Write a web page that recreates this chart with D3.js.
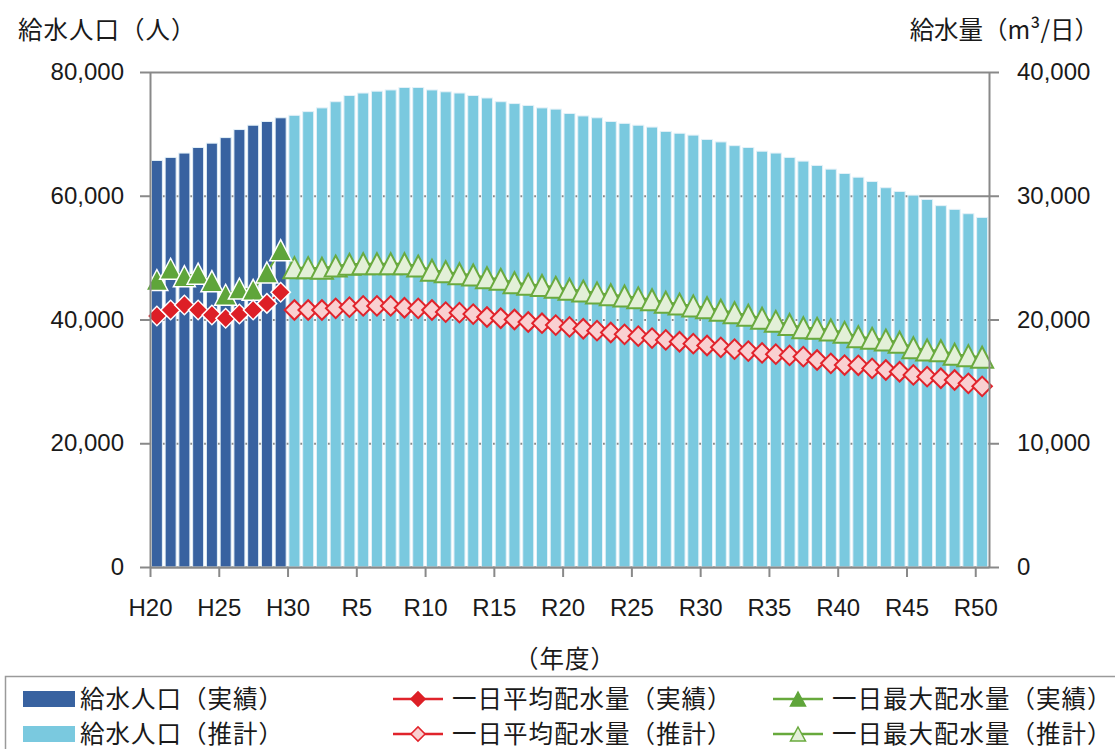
<!DOCTYPE html>
<html>
<head>
<meta charset="utf-8">
<script src="https://cdn.jsdelivr.net/npm/d3@7"></script>
<style>
  body { margin: 0; background: #fff; }
  text { font-family: "Liberation Sans", Arial, sans-serif; fill: #1a1a1a; }
  .jp { font-family: "Noto Sans CJK JP", sans-serif; letter-spacing: 1px; }
</style>
</head>
<body>
<div id="chart"></div>
<script>
// fiscal years H20 (2008) .. R50 (2068)
const years = ["H20","H21","H22","H23","H24","H25","H26","H27","H28","H29","H30",
  "R1","R2","R3","R4","R5","R6","R7","R8","R9","R10","R11","R12","R13","R14","R15",
  "R16","R17","R18","R19","R20","R21","R22","R23","R24","R25","R26","R27","R28","R29","R30",
  "R31","R32","R33","R34","R35","R36","R37","R38","R39","R40","R41","R42","R43","R44","R45",
  "R46","R47","R48","R49","R50"];
const tickYears = ["H20","H25","H30","R5","R10","R15","R20","R25","R30","R35","R40","R45","R50"];
const actualYears = years.slice(0, 10);    // H20-H29
const estimateYears = years.slice(10);     // H30-R50

// 給水人口 (人)
const popActual = [65700, 66200, 66900, 67800, 68500, 69400, 70700, 71400, 72000, 72600];
const popEstimate = [73000, 73600, 74200, 75200, 76200, 76600, 76900, 77100, 77500, 77500,
  77100, 76800, 76600, 76200, 75800, 75200, 74900, 74600, 74200, 74000,
  73300, 72900, 72600, 72000, 71700, 71400, 71100, 70400, 70100, 69800,
  69100, 68700, 68100, 67800, 67200, 66900, 66200, 65600, 64900, 64300,
  63600, 63000, 62300, 61300, 60700, 60100, 59400, 58400, 57800, 57100, 56500];

// 一日平均配水量 (m3/日)
const avgActual = [20280, 20770, 21170, 20770, 20360, 20100, 20440, 20770, 21300, 22200];
const avgEstimate = [20770, 20770, 20770, 20900, 21000, 21100, 21100, 21100, 20950, 20900,
  20770, 20600, 20550, 20440, 20200, 20100, 20000, 19800, 19700, 19550,
  19400, 19250, 19100, 18950, 18800, 18650, 18500, 18350, 18200, 18050,
  17900, 17750, 17600, 17450, 17300, 17200, 17100, 17000, 16730, 16460,
  16320, 16300, 16050, 15920, 15780, 15520, 15380, 15250, 15110, 14840, 14600];

// 一日最大配水量 (m3/日)
const maxActual = [23190, 24100, 23500, 23700, 23100, 22000, 22500, 22400, 23800, 25600];
const maxEstimate = [24190, 24190, 24140, 24320, 24460, 24510, 24510, 24510, 24510, 24320,
  23980, 23860, 23700, 23600, 23380, 23250, 22970, 22840, 22750, 22600,
  22450, 22300, 22150, 22000, 21900, 21750, 21600, 21400, 21250, 21100,
  20950, 20750, 20550, 20350, 20100, 19850, 19600, 19340, 19290, 19150,
  18960, 18610, 18480, 18340, 18160, 17720, 17540, 17480, 17190, 17080, 16950];

const leftTicks = [0, 20000, 40000, 60000, 80000];
const rightTicks = [0, 10000, 20000, 30000, 40000];

const W = 1115, H = 749;
const plot = {left: 150, right: 989, top: 72, bottom: 567};
const axisColor = "#898989";

const svg = d3.select("#chart").append("svg")
    .attr("width", W).attr("height", H);

// scales
var x = d3.scaleBand().domain(years)
    .range([plot.left, plot.right])
    .paddingInner(0.2).paddingOuter(0.1);
var xEdge = d3.scaleLinear().domain([0, years.length])
    .range([plot.left, plot.right]);
var yL = d3.scaleLinear().domain([0, 80000]).range([plot.bottom, plot.top]);
var yR = d3.scaleLinear().domain([0, 40000]).range([plot.bottom, plot.top]);

// gridlines
svg.append("g")
   .attr("class", "grid")
   .attr("transform", "translate(" + plot.left + ",0)")
   .call(d3.axisLeft(yL).tickValues(leftTicks).tickSize(-(plot.right - plot.left)).tickFormat(""))
   .call(g => g.select(".domain").remove())
   .call(g => g.selectAll("line").attr("stroke", axisColor).attr("stroke-width", 2));

// bars
function drawBars(cats, vals, color) {
  svg.append("g").selectAll("rect")
     .data(vals).enter().append("rect")
     .attr("x", (d, i) => x(cats[i]))
     .attr("width", x.bandwidth())
     .attr("y", d => yL(d))
     .attr("height", d => yL(0) - yL(d))
     .attr("fill", color)
     .attr("stroke", "#e4f1f8")
     .attr("stroke-width", 1);
}
drawBars(actualYears, popActual, "#3862a0");
drawBars(estimateYears, popEstimate, "#7ac9df");

// markers
var cx = c => x(c) + x.bandwidth() / 2;
var diamond = d3.symbol().type(d3.symbolSquare).size(190);
function triPath(w, h) {
  return "M0," + (-h / 2) + "L" + (w / 2) + "," + (h / 2) + "L" + (-w / 2) + "," + (h / 2) + "Z";
}

function drawSeries(cats, vals, kind, fill, stroke, sw) {
  var line = d3.line().x((d, i) => cx(cats[i])).y(d => yR(d));
  svg.append("path")
     .datum(vals)
     .attr("d", line)
     .attr("fill", "none")
     .attr("stroke", kind === "diamond" ? "#e0232b" : "#67a93c")
     .attr("stroke-width", 2);
  var g = svg.append("g");
  g.selectAll("path")
   .data(vals).enter().append("path")
   .attr("transform", (d, i) => "translate(" + cx(cats[i]) + "," + yR(d) + ")" + (kind === "diamond" ? " rotate(45)" : ""))
   .attr("d", kind === "diamond" ? diamond() : triPath(22, 21))
   .attr("fill", fill)
   .attr("stroke", stroke)
   .attr("stroke-width", sw)
   .attr("stroke-linejoin", "miter");
}
drawSeries(estimateYears, maxEstimate, "tri", "#e3f0d8", "#6aaa3e", 2);
drawSeries(estimateYears, avgEstimate, "diamond", "#f9d0d1", "#e2232b", 2);
drawSeries(actualYears, maxActual, "tri", "#5fa53a", "#ffffff", 1.5);
drawSeries(actualYears, avgActual, "diamond", "#dd1f26", "#ffffff", 1.5);

// axes
function styleAxis(g) {
  g.selectAll(".domain").attr("stroke", axisColor).attr("stroke-width", 2);
  g.selectAll(".tick line").attr("stroke", axisColor).attr("stroke-width", 2);
  g.selectAll(".tick text").attr("font-size", 24).attr("fill", "#1a1a1a")
   .attr("font-family", "'Liberation Sans', Arial, sans-serif");
}

svg.append("g")
   .attr("transform", "translate(" + plot.left + ",0)")
   .call(d3.axisLeft(yL).tickValues(leftTicks).tickSize(10).tickSizeOuter(0)
           .tickPadding(16).tickFormat(d3.format(",")))
   .call(styleAxis);

svg.append("g")
   .attr("transform", "translate(" + plot.right + ",0)")
   .call(d3.axisRight(yR).tickValues(rightTicks).tickSize(10).tickSizeOuter(0)
           .tickPadding(18).tickFormat(d3.format(",")))
   .call(styleAxis);

svg.append("g")
   .attr("transform", "translate(0," + plot.bottom + ")")
   .call(d3.axisBottom(xEdge)
           .tickValues(tickYears.map(t => years.indexOf(t)))
           .tickSize(10).tickSizeOuter(0).tickPadding(22)
           .tickFormat(i => years[i]))
   .call(styleAxis);

// axis titles
svg.append("text").attr("class", "jp")
   .attr("x", 18).attr("y", 30).attr("dy", "0.35em")
   .attr("font-size", 24.5)
   .text("給水人口（人）");
svg.append("text").attr("class", "jp")
   .attr("x", 1099).attr("y", 30).attr("dy", "0.35em")
   .attr("text-anchor", "end")
   .attr("font-size", 24.5)
   .style("letter-spacing", "0px")
   .text("給水量（m³/日）");
svg.append("text").attr("class", "jp")
   .attr("x", 565).attr("y", 659).attr("dy", "0.35em")
   .attr("text-anchor", "middle")
   .attr("font-size", 24.5)
   .text("（年度）");

// legend
var legend = svg.append("g");
legend.append("rect")
   .attr("x", 5.5).attr("y", 676.5).attr("width", 1120).attr("height", 80)
   .attr("fill", "#fff").attr("stroke", "#9a9a9a").attr("stroke-width", 1.5);

const legendItems = [
  {label: "給水人口（実績）", type: "bar", fill: "#3862a0", col: 0, row: 0},
  {label: "給水人口（推計）", type: "bar", fill: "#7ac9df", col: 0, row: 1},
  {label: "一日平均配水量（実績）", type: "diamond", fill: "#dd1f26", stroke: "#dd1f26", col: 1, row: 0},
  {label: "一日平均配水量（推計）", type: "diamond", fill: "#f9d0d1", stroke: "#e2232b", col: 1, row: 1},
  {label: "一日最大配水量（実績）", type: "tri", fill: "#5fa53a", stroke: "#5fa53a", col: 2, row: 0},
  {label: "一日最大配水量（推計）", type: "tri", fill: "#e3f0d8", stroke: "#6aaa3e", col: 2, row: 1}
];
const colX = [23, 393, 773];
const rowY = [699, 734];

legendItems.forEach(function(d) {
  var x0 = colX[d.col], y0 = rowY[d.row];
  var item = legend.append("g").attr("transform", "translate(" + x0 + "," + y0 + ")");
  if (d.type === "bar") {
    item.append("rect").attr("x", 0).attr("y", -8).attr("width", 52).attr("height", 16)
        .attr("fill", d.fill);
  } else {
    item.append("line").attr("x1", 0).attr("x2", 50).attr("y1", 0).attr("y2", 0)
        .attr("stroke", d.type === "diamond" ? "#e0232b" : "#67a93c").attr("stroke-width", 2.5);
    item.append("path")
        .attr("transform", "translate(25,0)" + (d.type === "diamond" ? " rotate(45)" : ""))
        .attr("d", d.type === "diamond" ? d3.symbol().type(d3.symbolSquare).size(100)() : triPath(15, 14))
        .attr("fill", d.fill).attr("stroke", d.stroke).attr("stroke-width", 1.5);
  }
  item.append("text").attr("class", "jp")
      .attr("x", d.type === "bar" ? 57 : 59).attr("y", 0).attr("dy", "0.35em")
      .attr("font-size", 24.5)
      .text(d.label);
});
</script>
</body>
</html>
